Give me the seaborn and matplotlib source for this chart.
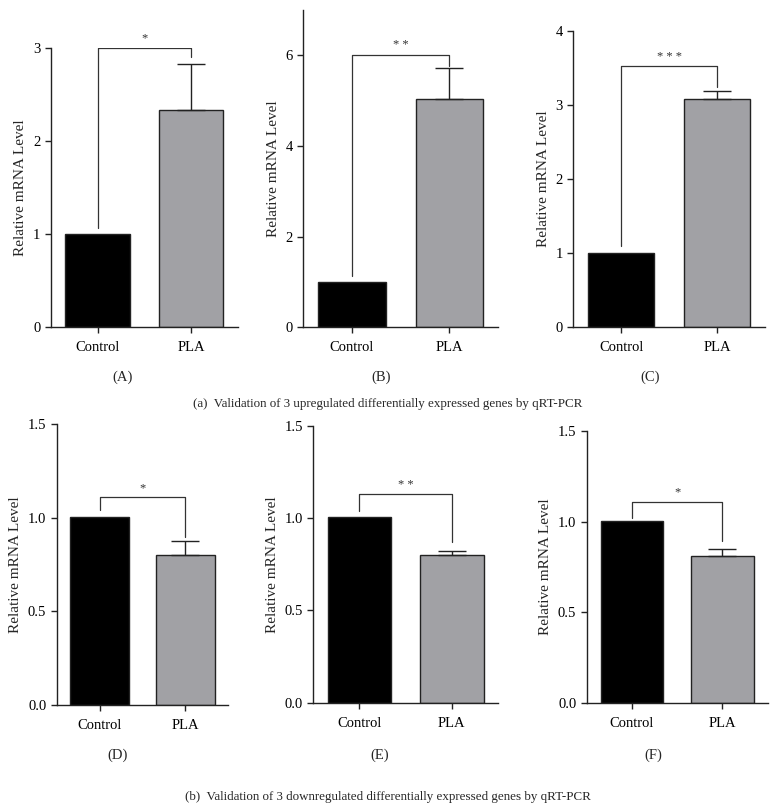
import numpy as np
import pandas as pd
import seaborn as sns
import matplotlib.pyplot as plt

# --------------------------- SETTINGS ---------------------------
sns.set_style("ticks")
plt.rcParams['font.family'] = ['Liberation Serif', 'DejaVu Serif']
plt.rcParams['axes.linewidth'] = 1.0
plt.rcParams['xtick.major.width'] = 1.0
plt.rcParams['ytick.major.width'] = 1.0
plt.rcParams['xtick.major.size'] = 4
plt.rcParams['ytick.major.size'] = 4

# --------------------------- DATA ---------------------------
groups = ['Control', 'PLA']
panel_names = ['(A)', '(B)', '(C)', '(D)', '(E)', '(F)']
control_vals = [1.0, 1.0, 1.0, 1.005, 1.005, 1.005]
pla_vals = [2.33, 5.02, 3.08, 0.80, 0.80, 0.81]
pla_err = [0.49, 0.70, 0.11, 0.075, 0.023, 0.04]
stars = ['*', '* *', '* * *', '*', '* *', '*']
bracket_top = [3.0, 6.0, 3.52, 1.11, 1.13, 1.11]
bracket_left_end = [1.06, 1.13, 1.09, 1.04, 1.04, 1.02]
bracket_right_end = [2.90, 5.76, 3.24, 0.90, 0.87, 0.89]
y_ticks = [[0, 1, 2, 3], [0, 2, 4, 6], [0, 1, 2, 3, 4],
           [0.0, 0.5, 1.0, 1.5], [0.0, 0.5, 1.0, 1.5], [0.0, 0.5, 1.0, 1.5]]
y_limits = [(0, 3), (0, 7), (0, 4), (0, 1.5), (0, 1.5), (0, 1.5)]
caption_up = "(a)  Validation of 3 upregulated differentially expressed genes by qRT-PCR"
caption_down = "(b)  Validation of 3 downregulated differentially expressed genes by qRT-PCR"

bar_colors = {'Control': '#000000', 'PLA': '#a1a1a5'}

# axes boxes in pixels: left, right, top, bottom
W, H = 776, 806
boxes = [(50.7, 238, 47.7, 326.7), (303.3, 498, 9.5, 327.3), (573.3, 765, 31, 326.7),
         (56.7, 228, 424.3, 705), (313.3, 498, 426, 702.7), (586.7, 767.7, 431, 702.7)]
label_pos = [(123, 377), (381, 377), (650, 377), (118, 755), (380, 755), (653, 755)]

fig = plt.figure(figsize=(W / 100, H / 100), dpi=100)

for i in range(6):
    l, r, t, b = boxes[i]
    ax = fig.add_axes([l / W, 1 - b / H, (r - l) / W, (b - t) / H])
    df = pd.DataFrame({'group': groups, 'value': [control_vals[i], pla_vals[i]]})
    sns.barplot(data=df, x='group', y='value', hue='group', palette=bar_colors,
                width=0.69, edgecolor='#222222', linewidth=1.0, legend=False, ax=ax)
    # upper error bar on PLA
    ax.errorbar(1, pla_vals[i], yerr=[[0], [pla_err[i]]], fmt='none',
                ecolor='#222222', elinewidth=1.0, capsize=10, capthick=1.0)
    # significance bracket
    ax.plot([0, 0, 1, 1], [bracket_left_end[i], bracket_top[i], bracket_top[i], bracket_right_end[i]],
            color='#333333', lw=0.9)
    ax.text(0.5, bracket_top[i] + (y_limits[i][1] - y_limits[i][0]) * 0.012, stars[i],
            ha='center', va='bottom', fontsize=9, color='#333333')

    ax.set_xlim(-0.5, 1.5)
    ax.set_ylim(*y_limits[i])
    ax.set_yticks(y_ticks[i])
    if i >= 3:
        ax.set_yticklabels([f"{v:.1f}" for v in y_ticks[i]])
    ax.tick_params(labelsize=10.5, colors='#222222', labelcolor='black')
    ax.set_xlabel('')
    ax.set_ylabel('Relative mRNA Level', fontsize=11)
    sns.despine(ax=ax)
    for s in ['left', 'bottom']:
        ax.spines[s].set_color('#222222')
    ax.tick_params(axis='x', pad=6)

    fig.text(label_pos[i][0] / W, 1 - label_pos[i][1] / H, panel_names[i],
             ha='center', va='center', fontsize=10.5)

fig.text(388 / W, 1 - 404 / H, caption_up, ha='center', va='center', fontsize=9.4)
fig.text(388 / W, 1 - 797 / H, caption_down, ha='center', va='center', fontsize=9.4)

plt.savefig('out.png', dpi=100)
plt.close()
